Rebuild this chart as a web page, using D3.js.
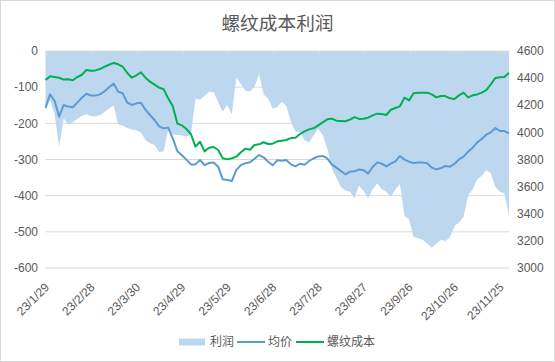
<!DOCTYPE html>
<html>
<head>
<meta charset="utf-8">
<title>螺纹成本利润</title>
<script src="https://d3js.org/d3.v7.min.js"></script>
<style>
  body { margin: 0; background: #fff; }
  text { font-family: "Liberation Sans", Arial, sans-serif; fill: #595959; }
  .cjk { font-family: "Noto Sans CJK SC", sans-serif; }
</style>
</head>
<body>
<div id="chart"></div>
<script>
// every 3 days
var dates = [
  "23/1/28","23/1/31","23/2/3","23/2/6","23/2/9","23/2/12","23/2/15","23/2/18","23/2/21","23/2/24",
  "23/2/27","23/3/2","23/3/5","23/3/8","23/3/11","23/3/14","23/3/17","23/3/20","23/3/23","23/3/26",
  "23/3/29","23/4/1","23/4/4","23/4/7","23/4/10","23/4/13","23/4/16","23/4/19","23/4/22","23/4/25",
  "23/4/28","23/5/1","23/5/4","23/5/7","23/5/10","23/5/13","23/5/16","23/5/19","23/5/22","23/5/25",
  "23/5/28","23/5/31","23/6/3","23/6/6","23/6/9","23/6/12","23/6/15","23/6/18","23/6/21","23/6/24",
  "23/6/27","23/6/30","23/7/3","23/7/6","23/7/9","23/7/12","23/7/15","23/7/18","23/7/21","23/7/24",
  "23/7/27","23/7/30","23/8/2","23/8/5","23/8/8","23/8/11","23/8/14","23/8/17","23/8/20","23/8/23",
  "23/8/26","23/8/29","23/9/1","23/9/4","23/9/7","23/9/10","23/9/13","23/9/16","23/9/19","23/9/22",
  "23/9/25","23/9/28","23/10/1","23/10/4","23/10/7","23/10/10","23/10/13","23/10/16","23/10/19","23/10/22",
  "23/10/25","23/10/28","23/10/31","23/11/3","23/11/6","23/11/9","23/11/12","23/11/15","23/11/18","23/11/21",
  "23/11/24","23/11/27","23/11/30"
];

// 利润 (left axis)
var profit = [
  -166,-135,-175,-265,-186,-203,-197,-187,-180,-175,
  -180,-181,-177,-169,-159,-151,-203,-206,-213,-217,
  -219,-225,-246,-255,-260,-279,-278,-218,-231,-232,
  -233,-237,-232,-131,-135,-124,-112,-114,-142,-168,
  -149,-175,-73,-92,-110,-112,-99,-64,-120,-131,
  -160,-155,-140,-152,-195,-223,-224,-246,-253,-233,
  -214,-232,-269,-324,-350,-376,-386,-389,-407,-372,
  -387,-407,-382,-366,-382,-389,-403,-382,-368,-456,
  -465,-514,-518,-522,-532,-544,-533,-522,-525,-516,
  -484,-474,-458,-400,-382,-355,-345,-329,-338,-375,
  -389,-394,-455
];

// 均价 (right axis)
var avgPrice = [
  4182,4280,4231,4116,4202,4190,4185,4219,4256,4285,
  4271,4271,4280,4303,4332,4360,4300,4288,4219,4202,
  4214,4219,4167,4128,4091,4044,4030,4035,3956,3863,
  3831,3799,3764,3764,3796,3759,3774,3777,3747,3654,
  3649,3641,3723,3759,3772,3779,3806,3833,3816,3784,
  3757,3794,3791,3796,3764,3750,3769,3762,3789,3809,
  3823,3826,3809,3764,3740,3715,3691,3710,3713,3727,
  3720,3698,3745,3779,3769,3749,3769,3786,3826,3799,
  3784,3774,3777,3777,3772,3740,3727,3737,3752,3747,
  3767,3801,3821,3858,3887,3926,3951,3983,4000,4032,
  4010,4010,3993
];

// 螺纹成本 (right axis)
var rebarCost = [
  4386,4413,4408,4403,4389,4391,4384,4408,4425,4460,
  4455,4457,4467,4484,4499,4512,4502,4484,4438,4403,
  4421,4443,4403,4374,4352,4330,4318,4251,4194,4067,
  4052,4025,3988,3895,3931,3860,3887,3892,3870,3809,
  3801,3809,3821,3853,3880,3872,3907,3912,3927,3914,
  3917,3934,3939,3944,3958,3961,3988,4007,4022,4030,
  4052,4074,4096,4101,4086,4084,4082,4094,4113,4099,
  4101,4108,4125,4138,4135,4128,4167,4180,4192,4256,
  4236,4288,4293,4293,4293,4280,4258,4268,4268,4251,
  4246,4273,4293,4258,4273,4280,4293,4312,4354,4401,
  4406,4408,4440
];

var leftTicks = [0, -100, -200, -300, -400, -500, -600];
var rightTicks = [4600, 4400, 4200, 4000, 3800, 3600, 3400, 3200, 3000];
var xLabels = ["23/1/29","23/2/28","23/3/30","23/4/29","23/5/29","23/6/28",
               "23/7/28","23/8/27","23/9/26","23/10/26","23/11/25"];

var W = 555, H = 362;
var plotL = 45.5, plotR = 509, plotT = 51, plotB = 268;
var parse = d3.utcParse("%y/%m/%d");

var data = dates.map(function (d, i) {
  return { date: parse(d), profit: profit[i], price: avgPrice[i], cost: rebarCost[i] };
});

var svg = d3.select("#chart").append("svg")
  .attr("width", W).attr("height", H);

svg.append("rect")
  .attr("x", 0.5).attr("y", 0.5)
  .attr("width", W - 1).attr("height", H - 1)
  .attr("fill", "#fff").attr("stroke", "#d9d9d9");

var x = d3.scaleUtc()
  .domain([parse(dates[0]), parse(dates[dates.length - 1])])
  .range([plotL, plotR]);
var yL = d3.scaleLinear().domain([-600, 0]).range([plotB, plotT]);
var yR = d3.scaleLinear().domain([3000, 4600]).range([plotB, plotT]);

// title
svg.append("text")
  .attr("class", "cjk")
  .attr("x", W / 2).attr("y", 30)
  .attr("text-anchor", "middle")
  .style("font-size", "18.7px")
  .text("螺纹成本利润");

// gridlines
svg.append("g").selectAll("line")
  .data(leftTicks.filter(function (t) { return t !== 0; }))
  .enter().append("line")
  .attr("x1", plotL).attr("x2", plotR)
  .attr("y1", function (d) { return yL(d); })
  .attr("y2", function (d) { return yL(d); })
  .attr("stroke", "#d9d9d9").attr("stroke-width", 1);

// profit area
var area = d3.area()
  .x(function (d) { return x(d.date); })
  .y0(yL(0))
  .y1(function (d) { return yL(d.profit); });

svg.append("path")
  .datum(data)
  .attr("d", area)
  .attr("fill", "#bdd7ee");

// category axis sits at 0 (top)
svg.append("line")
  .attr("x1", plotL).attr("x2", plotR)
  .attr("y1", yL(0)).attr("y2", yL(0))
  .attr("stroke", "#d9d9d9");

var tickDates = xLabels.map(function (s) { return parse(s); });
svg.append("g").selectAll("line")
  .data(tickDates)
  .enter().append("line")
  .attr("x1", function (d) { return x(d); })
  .attr("x2", function (d) { return x(d); })
  .attr("y1", yL(0)).attr("y2", yL(0) + 5)
  .attr("stroke", "#d9d9d9");

svg.append("g").selectAll("text")
  .data(xLabels)
  .enter().append("text")
  .attr("transform", function (s) {
    return "translate(" + x(parse(s)) + "," + 285 + ") rotate(-45)";
  })
  .attr("text-anchor", "end")
  .attr("dy", "0.35em")
  .style("font-size", "12px")
  .text(function (s) { return s; });

// y labels
svg.append("g").selectAll("text")
  .data(leftTicks)
  .enter().append("text")
  .attr("x", 38)
  .attr("y", function (d) { return yL(d); })
  .attr("dy", "0.35em")
  .attr("text-anchor", "end")
  .style("font-size", "12px")
  .text(function (d) { return d; });

svg.append("g").selectAll("text")
  .data(rightTicks)
  .enter().append("text")
  .attr("x", 517)
  .attr("y", function (d) { return yR(d); })
  .attr("dy", "0.35em")
  .style("font-size", "12px")
  .text(function (d) { return d; });

// lines
var priceLine = d3.line()
  .x(function (d) { return x(d.date); })
  .y(function (d) { return yR(d.price); });
var costLine = d3.line()
  .x(function (d) { return x(d.date); })
  .y(function (d) { return yR(d.cost); });

svg.append("path")
  .datum(data)
  .attr("d", priceLine)
  .attr("fill", "none")
  .attr("stroke", "#5b9bd5")
  .attr("stroke-width", 2)
  .attr("stroke-linejoin", "round");

svg.append("path")
  .datum(data)
  .attr("d", costLine)
  .attr("fill", "none")
  .attr("stroke", "#00b050")
  .attr("stroke-width", 2)
  .attr("stroke-linejoin", "round");

// legend
var lg = svg.append("g");
var ly = 342;
lg.append("rect")
  .attr("x", 179).attr("y", ly - 3.5)
  .attr("width", 26).attr("height", 7)
  .attr("fill", "#bdd7ee");
lg.append("text").attr("class", "cjk")
  .attr("x", 210).attr("y", ly).attr("dy", "0.35em")
  .style("font-size", "12px").text("利润");
lg.append("line")
  .attr("x1", 237).attr("x2", 265).attr("y1", ly).attr("y2", ly)
  .attr("stroke", "#5b9bd5").attr("stroke-width", 2);
lg.append("text").attr("class", "cjk")
  .attr("x", 268).attr("y", ly).attr("dy", "0.35em")
  .style("font-size", "12px").text("均价");
lg.append("line")
  .attr("x1", 296).attr("x2", 324).attr("y1", ly).attr("y2", ly)
  .attr("stroke", "#00b050").attr("stroke-width", 2);
lg.append("text").attr("class", "cjk")
  .attr("x", 327).attr("y", ly).attr("dy", "0.35em")
  .style("font-size", "12px").text("螺纹成本");
</script>
</body>
</html>
